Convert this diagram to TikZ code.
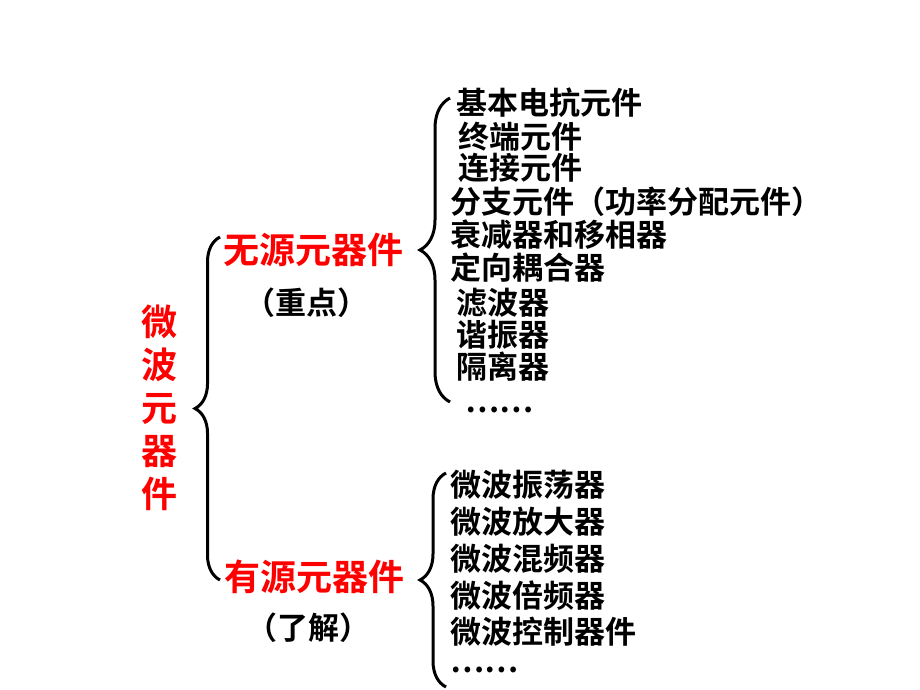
\documentclass[tikz,border=0pt]{standalone}
\usepackage{fontspec}
\newfontfamily\cjk{Noto Sans CJK SC}[BoldFont={Noto Sans CJK SC Bold}]
\usetikzlibrary{decorations.pathreplacing,positioning}

\begin{document}
\begin{tikzpicture}[x=0.5pt,y=-0.5pt,
       curly/.style={decorate,decoration={brace,amplitude=#1},line width=1.5pt},
       curly/.default=12pt]

    \tikzstyle{item}=[anchor=west,inner sep=0pt,font=\cjk\bfseries\fontsize{15.5pt}{15.5pt}\selectfont]
    \tikzstyle{note}=[inner sep=0pt,font=\cjk\bfseries\fontsize{15.5pt}{15.5pt}\selectfont]
    \tikzstyle{head}=[inner sep=0pt,text=red,font=\cjk\bfseries\fontsize{18pt}{21.5pt}\selectfont]

    \useasboundingbox (0,0) rectangle (920,690);

    % left side
    \node[head,align=center] (mw) at (159,408) {微\\波\\元\\器\\件};
    \node[head] (passive) at (313,250) {无源元器件};
    \node[note] (key) at (306,303) {（重点）};
    \node[head] (active) at (314,577) {有源元器件};
    \node[note] (know) at (308,628) {（了解）};

    % passive parts
    \foreach \i/\X/\Y/\txt in {1/456/103/基本电抗元件,2/458/137/终端元件,3/458/168/连接元件,
        4/450/202/分支元件（功率分配元件）,5/450/235/衰减器和移相器,6/450/268/定向耦合器,
        7/456/303/滤波器,8/456/335/谐振器,9/456/367/隔离器,10/465/410/……}
        {\node[item] (p\i) at (\X,\Y) {\txt};}

    % active parts
    \foreach \i/\Y/\txt in {1/485/微波振荡器,2/522/微波放大器,3/559/微波混频器,
        4/596/微波倍频器,5/632/微波控制器件,6/670/……}
        {\node[item] (q\i) at (450,\Y) {\txt};}

    \coordinate (a top) at (220,237);
    \coordinate (a bot) at (220,580);
    \coordinate (b top) at (450,98);
    \coordinate (b bot) at (450,402);
    \coordinate (c top) at (446,473);
    \coordinate (c bot) at (446,687);

    \draw[curly=12.5pt] (a bot) -- (a top);
    \draw[curly=15pt] (b bot) -- (b top);
    \draw[curly=13pt] (c bot) -- (c top);

\end{tikzpicture}
\end{document}
